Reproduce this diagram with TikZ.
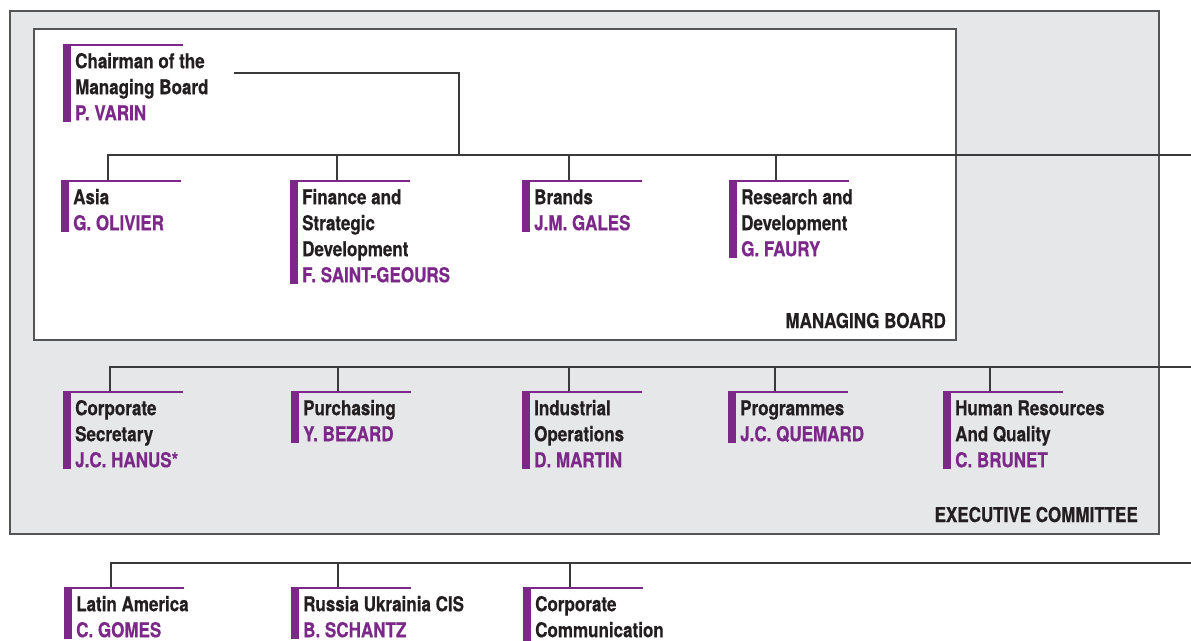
\documentclass[tikz,border=0pt]{standalone}
\usepackage{fontspec}
\setmainfont{TeX Gyre Heros}[FakeStretch=0.83, BoldFeatures={FakeBold=0.5}]
\usetikzlibrary{calc}

\definecolor{orgpurple}{HTML}{7B2889}
\definecolor{boardgrey}{HTML}{E6E7E9}
\definecolor{ink}{HTML}{231F20}
\definecolor{linkgrey}{HTML}{3A3A3A}
\definecolor{framegrey}{HTML}{555555}

\tikzset{
  unittext/.style={anchor=north west, inner sep=0pt, align=left,
    font=\fontsize{20.5}{26}\selectfont\bfseries, text=ink},
  link/.style={draw=linkgrey, line width=1.3pt},
  frame/.style={draw=framegrey, line width=1.5pt},
  boardlabel/.style={anchor=base east, inner sep=0pt,
    font=\fontsize{20.5}{26}\selectfont\bfseries, text=ink},
}

% #1 name, #2 left x, #3 top y, #4 number of lines, #5 title, #6 person
\newcommand{\orgunit}[6]{%
  \fill[orgpurple] (#2,#3) rectangle ++(8,#4*26);
  \draw[orgpurple, line width=2pt] (#2,#3+1) -- ++(120,0);
  \coordinate (#1-top) at (#2+47,#3);
  \node[unittext] (#1) at (#2+12,#3+5) {\rule{0pt}{19pt}#5\\\textcolor{orgpurple}{#6}};
}

\begin{document}
\begin{tikzpicture}[x=1pt, y=-1pt]
\useasboundingbox (0,0) rectangle (1191,640);

% executive committee and managing board frames
\fill[boardgrey] (10,11) rectangle (1159,534);
\draw[frame] (10,11) rectangle (1159,534);
\fill[white] (34,29) rectangle (956,340);
\draw[frame] (34,29) rectangle (956,340);

\node[boardlabel] (mb) at (946,328) {MANAGING BOARD};
\node[boardlabel] (ec) at (1138,522) {EXECUTIVE COMMITTEE};

% chairman
\orgunit{chairman}{63}{44}{3}{Chairman of the\\Managing Board}{P. VARIN}

% managing board members
\orgunit{asia}{61}{180}{2}{Asia}{G. OLIVIER}
\orgunit{finance}{290}{180}{4}{Finance and\\Strategic\\Development}{F. SAINT-GEOURS}
\orgunit{brands}{522}{180}{2}{Brands}{J.M. GALES}
\orgunit{rnd}{729}{180}{3}{Research and\\Development}{G. FAURY}

% executive committee members
\orgunit{corpsec}{63}{391}{3}{Corporate\\Secretary}{J.C. HANUS*}
\orgunit{purchasing}{291}{391}{2}{Purchasing}{Y. BEZARD}
\orgunit{industrial}{522}{391}{3}{Industrial\\Operations}{D. MARTIN}
\orgunit{programmes}{728}{391}{2}{Programmes}{J.C. QUEMARD}
\orgunit{hr}{943}{391}{3}{Human Resources\\And Quality}{C. BRUNET}

% further direct reports
\orgunit{latam}{64}{587}{2}{Latin America}{C. GOMES}
\orgunit{russia}{291}{587}{2}{Russia Ukrainia CIS}{B. SCHANTZ}
\orgunit{corpcomm}{523}{587}{3}{Corporate\\Communication}{}

% connectors
\coordinate (chair-out) at (234,73);
\coordinate (chair-drop) at (459,155);
\coordinate (bus1-east) at (1191,155);
\coordinate (bus2-east) at (1191,367);
\coordinate (bus3-east) at (1191,563);

\draw[link] (chair-out) -| (chair-drop);

\draw[link] (asia-top) |- (bus1-east);
\foreach \u in {finance,brands,rnd}
  \draw[link] (\u-top) -- (\u-top |- bus1-east);

\draw[link] (corpsec-top) |- (bus2-east);
\foreach \u in {purchasing,industrial,programmes,hr}
  \draw[link] (\u-top) -- (\u-top |- bus2-east);

\draw[link] (latam-top) |- (bus3-east);
\foreach \u in {russia,corpcomm}
  \draw[link] (\u-top) -- (\u-top |- bus3-east);
\end{tikzpicture}
\end{document}
